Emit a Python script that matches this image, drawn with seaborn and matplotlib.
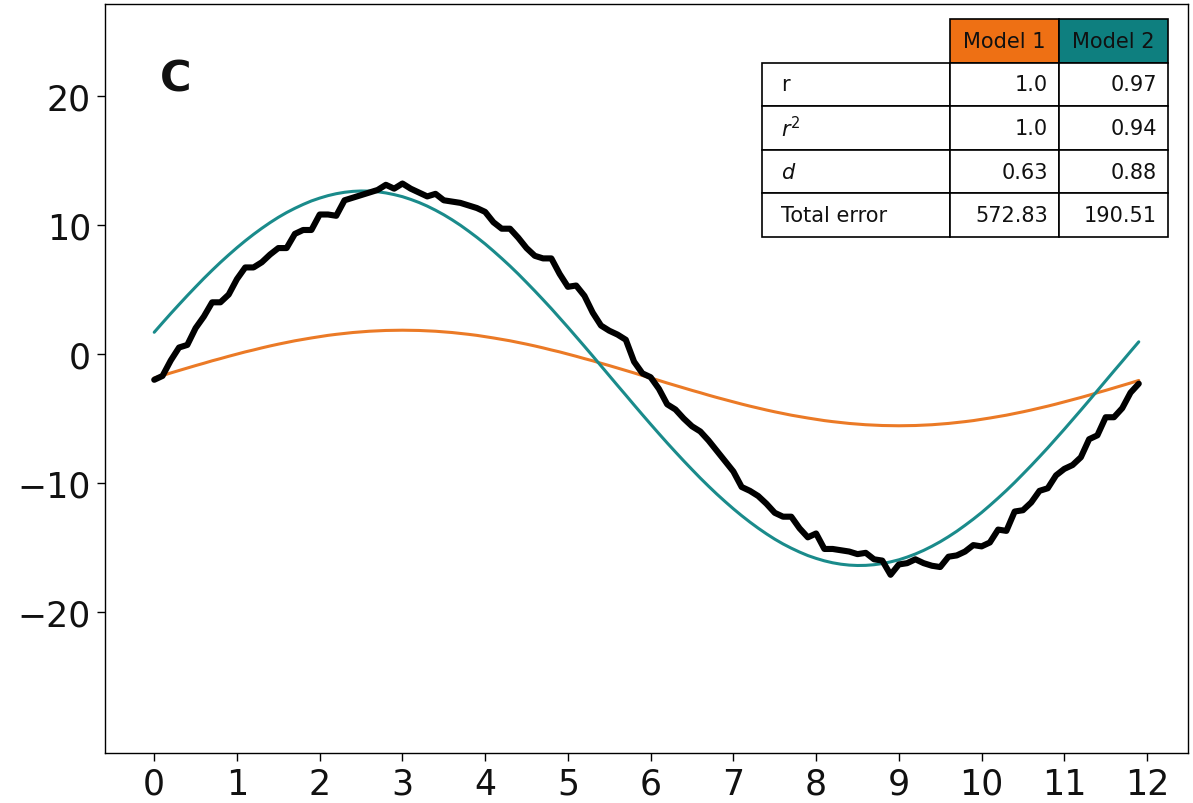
import numpy as np
import pandas as pd
import matplotlib
matplotlib.use("Agg")
import matplotlib.pyplot as plt
import seaborn as sns

# ---------------- data ----------------
x_vals = np.round(np.arange(0, 12, 0.1), 1)

observed = [
    -2.0, -1.7, -0.5, 0.5, 0.7, 2.0, 2.9, 4.0, 4.0, 4.6,
    5.8, 6.7, 6.7, 7.1, 7.7, 8.2, 8.2, 9.3, 9.6, 9.6,
    10.8, 10.8, 10.7, 11.9, 12.1, 12.3, 12.5, 12.7, 13.1, 12.8,
    13.2, 12.8, 12.5, 12.2, 12.4, 11.9, 11.8, 11.7, 11.5, 11.3,
    11.0, 10.2, 9.7, 9.7, 9.0, 8.2, 7.6, 7.4, 7.4, 6.2,
    5.2, 5.3, 4.5, 3.2, 2.2, 1.8, 1.5, 1.1, -0.6, -1.5,
    -1.8, -2.7, -3.9, -4.3, -5.0, -5.6, -6.0, -6.7, -7.5, -8.3,
    -9.1, -10.3, -10.6, -11.0, -11.6, -12.3, -12.6, -12.6, -13.5, -14.2,
    -13.9, -15.1, -15.1, -15.2, -15.3, -15.5, -15.4, -15.9, -16.0, -17.1,
    -16.3, -16.2, -15.9, -16.2, -16.4, -16.5, -15.7, -15.6, -15.3, -14.8,
    -14.9, -14.6, -13.6, -13.7, -12.2, -12.1, -11.5, -10.6, -10.4, -9.4,
    -8.9, -8.6, -8.0, -6.6, -6.3, -4.9, -4.9, -4.2, -3.0, -2.3,
]

model1 = [
    -1.86, -1.67, -1.47, -1.28, -1.09, -0.90, -0.72, -0.53, -0.36, -0.18,
    -0.01, 0.16, 0.31, 0.47, 0.62, 0.76, 0.89, 1.02, 1.13, 1.24,
    1.34, 1.44, 1.52, 1.59, 1.66, 1.71, 1.76, 1.79, 1.82, 1.83,
    1.84, 1.83, 1.82, 1.79, 1.76, 1.71, 1.66, 1.59, 1.52, 1.44,
    1.34, 1.24, 1.13, 1.02, 0.89, 0.76, 0.62, 0.47, 0.31, 0.16,
    -0.01, -0.18, -0.36, -0.53, -0.72, -0.90, -1.09, -1.28, -1.47, -1.67,
    -1.86, -2.05, -2.25, -2.44, -2.63, -2.82, -3.00, -3.19, -3.37, -3.54,
    -3.71, -3.88, -4.04, -4.19, -4.34, -4.48, -4.61, -4.74, -4.85, -4.96,
    -5.06, -5.16, -5.24, -5.31, -5.38, -5.43, -5.48, -5.51, -5.54, -5.55,
    -5.56, -5.55, -5.54, -5.51, -5.48, -5.43, -5.38, -5.31, -5.24, -5.16,
    -5.06, -4.96, -4.85, -4.74, -4.61, -4.48, -4.34, -4.19, -4.04, -3.88,
    -3.71, -3.54, -3.37, -3.19, -3.00, -2.82, -2.63, -2.44, -2.25, -2.05,
]

model2 = [
    1.68, 2.41, 3.13, 3.83, 4.52, 5.19, 5.85, 6.48, 7.09, 7.67,
    8.23, 8.76, 9.26, 9.73, 10.17, 10.58, 10.95, 11.28, 11.58, 11.85,
    12.07, 12.26, 12.41, 12.52, 12.59, 12.62, 12.61, 12.56, 12.47, 12.34,
    12.18, 11.97, 11.73, 11.45, 11.13, 10.78, 10.39, 9.97, 9.51, 9.03,
    8.52, 7.97, 7.40, 6.81, 6.19, 5.54, 4.88, 4.20, 3.51, 2.79,
    2.07, 1.33, 0.59, -0.16, -0.92, -1.68, -2.44, -3.19, -3.95, -4.70,
    -5.44, -6.17, -6.89, -7.59, -8.28, -8.95, -9.61, -10.24, -10.85, -11.43,
    -11.99, -12.52, -13.02, -13.49, -13.93, -14.34, -14.71, -15.04, -15.34, -15.61,
    -15.83, -16.02, -16.17, -16.28, -16.35, -16.38, -16.37, -16.32, -16.23, -16.10,
    -15.94, -15.73, -15.49, -15.21, -14.89, -14.54, -14.15, -13.73, -13.27, -12.79,
    -12.28, -11.73, -11.16, -10.57, -9.95, -9.30, -8.64, -7.96, -7.27, -6.55,
    -5.83, -5.09, -4.35, -3.60, -2.84, -2.08, -1.32, -0.57, 0.19, 0.94,
]

x_ticks = list(range(0, 13))
y_ticks = [-20, -10, 0, 10, 20]

table_rows = ["r", "$r^2$", "$d$", "Total error"]
table_cols = ["Model 1", "Model 2"]
model1_stats = ["1.0", "1.0", "0.63", "572.83"]
model2_stats = ["0.97", "0.94", "0.88", "190.51"]

panel_label = "C"

# ---------------- style ----------------
sns.set_theme(style="ticks")
plt.rcParams["font.family"] = ["DejaVu Sans"]
plt.rcParams["text.color"] = "black"

orange = "#ee7014"
orange_line = "#eb7a26"
teal = "#0e7f7f"
teal_line = "#1a8b8b"

fig = plt.figure(figsize=(11.93, 8.04), dpi=100)
ax = fig.add_axes([105 / 1193, 50 / 804, 1083 / 1193, 749 / 804])

df = pd.DataFrame({"x": x_vals, "observed": observed,
                   "model1": model1, "model2": model2})

sns.lineplot(data=df, x="x", y="model1", ax=ax, color=orange_line, lw=2.2,
             zorder=2)
sns.lineplot(data=df, x="x", y="model2", ax=ax, color=teal_line, lw=2.2,
             zorder=2)
sns.lineplot(data=df, x="x", y="observed", ax=ax, color="black", lw=4.4,
             zorder=3)

ax.set_xlim(-0.595, 12.495)
ax.set_ylim(-30.9, 27.1)
ax.set_xticks(x_ticks)
ax.set_yticks(y_ticks)
ax.set_xlabel("")
ax.set_ylabel("")
ax.tick_params(axis="both", labelsize=25, length=6, width=1,
               color="black", labelcolor="#111111", pad=4)
for sp in ax.spines.values():
    sp.set_visible(True)
    sp.set_color("black")
    sp.set_linewidth(1.0)

ax.text(0.051, 0.9, panel_label, transform=ax.transAxes,
        fontsize=31, fontweight="bold", ha="left", va="center",
        color="#111111")

# ---------------- table ----------------
cell_text = [[lab, a, b] for lab, a, b in zip(table_rows, model1_stats, model2_stats)]
tbl = ax.table(cellText=cell_text,
               colLabels=[""] + table_cols,
               colWidths=[188, 109, 109],
               bbox=[0.6066, 0.689, 0.3749, 0.2911],
               zorder=5)
tbl.auto_set_font_size(False)
tbl.set_fontsize(15)
for (r, c), cell in tbl.get_celld().items():
    cell.set_edgecolor("black")
    cell.set_linewidth(1.2)
    cell.get_text().set_color("#111111")
    if r == 0:
        if c == 0:
            cell.set_visible(False)
        else:
            cell.set_facecolor(orange if c == 1 else teal)
            cell.get_text().set_ha("center")
            cell._loc = "center"
    else:
        if c == 0:
            cell._loc = "left"
            cell.get_text().set_ha("left")
        else:
            cell._loc = "right"
            cell.get_text().set_ha("right")

fig.savefig("out.png", dpi=100)
